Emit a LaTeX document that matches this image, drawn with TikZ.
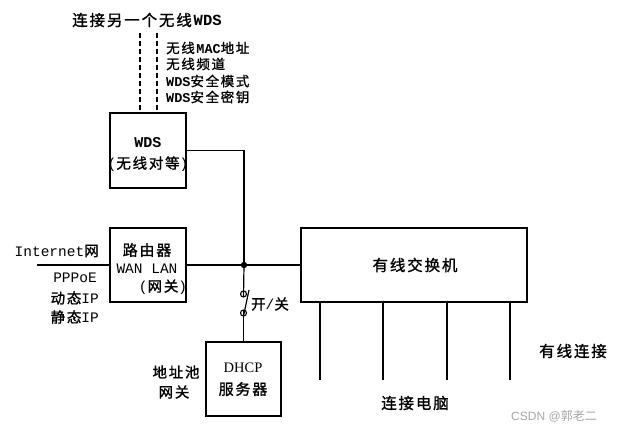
\documentclass[tikz,border=0pt]{standalone}
\usepackage{fontspec}
\setmainfont{Liberation Mono}
\newfontfamily\cjk[LetterSpace=12,FakeBold=1.2]{Noto Sans CJK SC}
\newfontfamily\serifdhcp{Liberation Serif}
\newfontfamily\wmfont{Liberation Sans}
\newcommand\zh[1]{{\cjk #1}}
\begin{document}
\begin{tikzpicture}[x=1pt,y=-1pt,
  box/.style={draw, line width=1.2pt, inner sep=0pt},
  wire/.style={line width=1.2pt},
  txt/.style={inner sep=0pt, font=\fontsize{14.5}{16}\selectfont},
  small/.style={inner sep=0pt, font=\fontsize{13.5}{15}\selectfont}]
\useasboundingbox (0,0) rectangle (619,432);
\fill[white] (0,0) rectangle (619,432);

% boxes
\node[box, minimum width=76pt, minimum height=75pt] (wds) at (148,150.5) {};
\node[box, minimum width=76pt, minimum height=74pt] (router) at (148,265) {};
\node[box, minimum width=226pt, minimum height=74pt] (switch) at (414,265) {};
\node[box, minimum width=75pt, minimum height=74pt] (dhcp) at (243.5,379) {};

% box texts
\node[txt, font=\fontsize{15}{16}\selectfont\bfseries] (wdst) at (148,143) {WDS};
\node[txt] (wdst2) at (148,164) {(\zh{无线对等})};
\node[txt, font=\fontsize{15}{16}\selectfont] (rt1) at (147,250) {\zh{路由器}};
\node[txt] (rt2) at (147,269) {WAN LAN};
\node[txt] (rt3) at (163,287) {(\zh{网关})};
\node[txt, font=\fontsize{15.5}{16}\selectfont] (swt) at (415,265) {\zh{有线交换机}};
\node[txt, font=\fontsize{14.5}{16}\selectfont\serifdhcp] (dh1) at (243,368) {DHCP};
\node[txt, font=\fontsize{15}{16}\selectfont] (dh2) at (243,389) {\zh{服务器}};

% title and WDS parameters
\node[txt, anchor=west, font=\fontsize{15.5}{16}\selectfont] (title) at (72,20) {\zh{连接另一个无线}\textbf{WDS}};
\node[small, anchor=west] (p1) at (166,48) {\zh{无线}\textbf{MAC}\zh{地址}};
\node[small, anchor=west] (p2) at (166,64) {\zh{无线频道}};
\node[small, anchor=west] (p3) at (166,81) {\textbf{WDS}\zh{安全模式}};
\node[small, anchor=west] (p4) at (166,97) {\textbf{WDS}\zh{安全密钥}};

% dashed wireless links
\coordinate (d1) at (140,33);
\coordinate (d2) at (157,33);
\draw[wire, dash pattern=on 5pt off 3pt] (d1) -- (d1 |- wds.north);
\draw[wire, dash pattern=on 5pt off 3pt] (d2) -- (d2 |- wds.north);

% internet side
\coordinate (inet) at (37,265);
\draw[wire] (inet) -- (router.west);
\node[txt, anchor=east] (inetl) at (99,251) {Internet\zh{网}};
\node[txt, anchor=east] (ppp) at (97,278) {PPPoE};
\node[txt, anchor=east] (dyn) at (99,298) {\zh{动态}IP};
\node[txt, anchor=east] (sta) at (99,317) {\zh{静态}IP};

% junction
\coordinate (j) at (244,265);
\draw[wire] (router.east) -- (switch.west);
\draw[wire] (wds.east) -| (j);
\fill (j) circle (3.2pt);

% on/off switch
\coordinate (c1) at (243.5,294);
\coordinate (c2) at (243.5,313);
\draw[wire] (j) -- ([yshift=-3pt]c1);
\draw[line width=1.1pt] (c1) circle (3pt);
\draw[line width=1.1pt] (c2) circle (3pt);
\draw[wire] ([yshift=-3pt]c2) -- (249,290);
\draw[wire] ([yshift=3pt]c2) -- (dhcp.north -| c2);
\node[txt] (onoff) at (270,304) {\zh{开}/\zh{关}};

\node[txt] (pool) at (176,372) {\zh{地址池}};
\node[txt] (gw) at (174,392) {\zh{网关}};

% switch ports
\foreach \x/\n in {320/a,383/b,447/c,510/d}{
  \coordinate (port\n) at (\x,380);
  \draw[wire] (switch.south -| port\n) -- (port\n);
}
\node[txt, font=\fontsize{15.5}{16}\selectfont] (pc) at (415,403) {\zh{连接电脑}};
\node[txt, font=\fontsize{15.5}{16}\selectfont] (wired) at (573,351) {\zh{有线连接}};

\node[inner sep=0pt, text=black!35, font=\fontsize{12}{14}\selectfont\wmfont] (wm) at (554,416) {CSDN @{\fontspec{Noto Sans CJK SC}郭老二}};
\end{tikzpicture}
\end{document}
